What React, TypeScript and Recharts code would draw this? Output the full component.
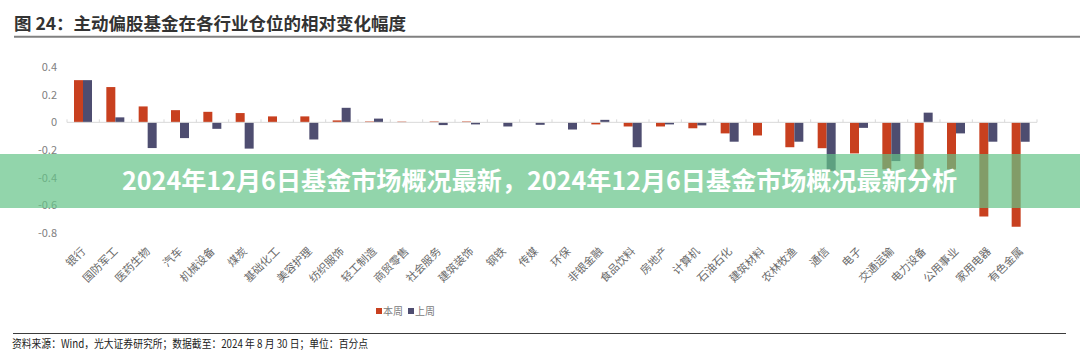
import React from 'react';
import { BarChart, Bar, XAxis, YAxis, ReferenceLine, Legend } from 'recharts';

const industries = [
  '银行', '国防军工', '医药生物', '汽车', '机械设备', '煤炭', '基础化工', '美容护理', '纺织服饰', '轻工制造',
  '商贸零售', '社会服务', '建筑装饰', '钢铁', '传媒', '环保', '非银金融', '食品饮料', '房地产', '计算机',
  '石油石化', '建筑材料', '农林牧渔', '通信', '电子', '交通运输', '电力设备', '公用事业', '家用电器', '有色金属',
];

// 本周
const thisWeek = [
  0.305, 0.255, 0.115, 0.088, 0.076, 0.067, 0.043, 0.043, 0.014, 0.006,
  0.005, 0.006, 0.006, 0, 0, 0, -0.015, -0.03, -0.03, -0.043,
  -0.08, -0.095, -0.18, -0.187, -0.225, -0.34, -0.34, -0.34, -0.68, -0.755,
];

// 上周
const lastWeek = [
  0.305, 0.036, -0.186, -0.114, -0.047, -0.19, 0, -0.124, 0.105, 0.027,
  0, -0.02, -0.015, -0.03, -0.018, -0.052, 0.018, -0.18, -0.015, -0.022,
  -0.14, 0, -0.14, -0.35, -0.04, -0.28, 0.07, -0.08, -0.14, -0.14,
];

const seriesNames = ['本周', '上周'];
const yTicks = [0.4, 0.2, 0, -0.2, -0.4, -0.6, -0.8];

const FONT = '"Noto Sans CJK SC", "Noto Sans", sans-serif';
const RED = '#c8401f';
const BLUE = '#4e4d70';

const chartData = industries.map((name, i) => ({
  name,
  本周: thisWeek[i],
  上周: lastWeek[i],
}));

const IndustryTick = (props: any) => {
  const { x, y, payload } = props;
  const tx = x + 3;
  const ty = y + 19;
  return (
    <text
      x={tx}
      y={ty}
      transform={`rotate(-45, ${tx}, ${ty})`}
      textAnchor="end"
      fontSize={11}
      fill="#6a6a6a"
      fontFamily={FONT}
    >
      {payload.value}
    </text>
  );
};

// zero line with the little category ticks on it
const ZeroLine = (props: any) => {
  const { x1, x2, y1 } = props;
  const step = (x2 - x1) / industries.length;
  return (
    <g>
      <line x1={x1} x2={x2} y1={y1} y2={y1} stroke="#d9d9d9" strokeWidth={1} />
      {industries.map((_, i) => (
        <line key={i} x1={x1 + step * i} x2={x1 + step * i} y1={y1 - 3} y2={y1} stroke="#d9d9d9" />
      ))}
      <line x1={x2} x2={x2} y1={y1 - 3} y2={y1} stroke="#d9d9d9" />
    </g>
  );
};

const LegendBox = (props: any) => {
  const items = [...(props.payload || [])].sort(
    (a: any, b: any) => seriesNames.indexOf(a.value) - seriesNames.indexOf(b.value)
  );
  return (
    <div style={{ display: 'flex', alignItems: 'center', fontFamily: FONT, fontSize: 10, color: '#7a7a7a', lineHeight: '12px' }}>
      {items.map((it: any) => (
        <span key={it.value} style={{ display: 'flex', alignItems: 'center', marginRight: 5 }}>
          <span style={{ width: 6, height: 6, background: it.color, display: 'inline-block', marginRight: 1 }} />
          {it.value}
        </span>
      ))}
    </div>
  );
};

export default function App() {
  return (
    <div style={{ position: 'absolute', left: 0, top: 0, width: 1080, height: 363, background: '#fff', overflow: 'hidden' }}>
      <BarChart
        width={1080}
        height={300}
        data={chartData}
        margin={{ top: 67, right: 43, left: 7, bottom: 0 }}
        barGap={0}
        barSize={9}
      >
        <XAxis
          dataKey="name"
          interval={0}
          axisLine={false}
          tickLine={false}
          tickSize={0}
          tickMargin={0}
          height={67}
          tick={<IndustryTick />}
        />
        <YAxis
          domain={[-0.8, 0.4]}
          ticks={yTicks}
          width={60}
          axisLine={false}
          tickLine={false}
          tickSize={0}
          tickMargin={10}
          tick={{ fontSize: 11, fill: '#808080', fontFamily: FONT }}
          tickFormatter={(v: number) => (v === 0 ? '0' : v.toFixed(1))}
        />
        <ReferenceLine y={0} shape={<ZeroLine />} />
        <Bar dataKey="本周" fill={RED} isAnimationActive={false} />
        <Bar dataKey="上周" fill={BLUE} isAnimationActive={false} />
        <Legend
          verticalAlign="middle"
          align="center"
          content={<LegendBox />}
          wrapperStyle={{ position: 'absolute', left: 376, top: 305, width: 80, height: 12 }}
        />
      </BarChart>

      <svg
        width={1080}
        height={363}
        style={{ position: 'absolute', left: 0, top: 0, pointerEvents: 'none' }}
      >
        <text x={14} y={29.5} fontSize={17.5} fontWeight="bold" fill="#333" fontFamily={FONT} textLength={392} lengthAdjust="spacingAndGlyphs">
          图 24：主动偏股基金在各行业仓位的相对变化幅度
        </text>
        <line x1={14} x2={1080} y1={36.7} y2={36.7} stroke="#808080" strokeWidth={2} />

        <line x1={13} x2={1066} y1={333.5} y2={333.5} stroke="#3c3c3c" strokeWidth={1} />
        <text x={12} y={347.5} fontSize={11.5} fill="#222" fontFamily={FONT} textLength={356} lengthAdjust="spacingAndGlyphs">
          资料来源：Wind，光大证券研究所；数据截至：2024 年 8 月 30 日；单位：百分点
        </text>

        <rect x={0} y={154} width={1080} height={54} fill="rgb(100,195,135)" fillOpacity={0.7} />
        <text x={539.5} y={190} textAnchor="middle" fontSize={25} fontWeight="bold" fill="#fff" fontFamily={FONT} textLength={835} lengthAdjust="spacingAndGlyphs">
          2024年12月6日基金市场概况最新，2024年12月6日基金市场概况最新分析
        </text>
      </svg>
    </div>
  );
}
